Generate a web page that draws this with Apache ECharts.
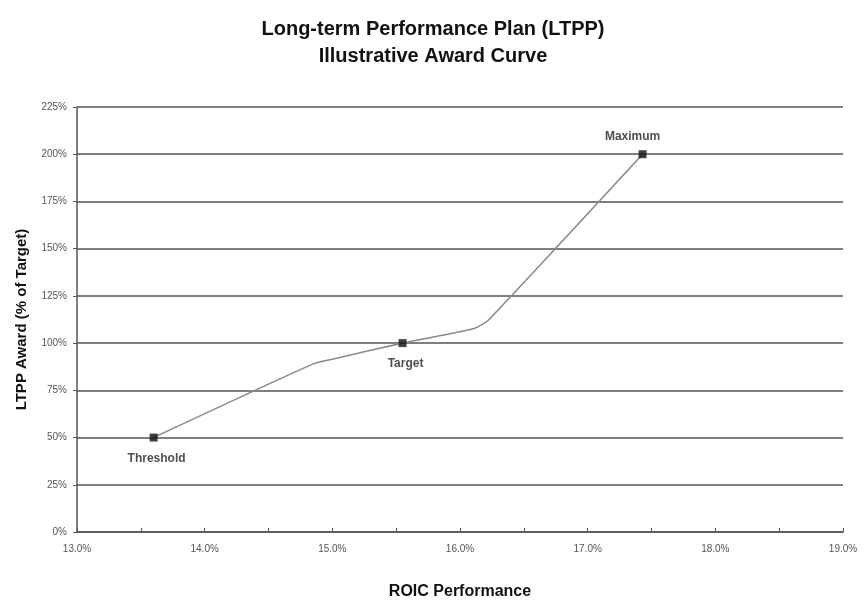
<!DOCTYPE html>
<html>
<head>
<meta charset="utf-8">
<script src="https://cdn.jsdelivr.net/npm/echarts@6/dist/echarts.min.js"></script>
<style>html,body{margin:0;padding:0;background:#fff}#c{width:866px;height:602px}</style>
</head>
<body>
<div id="c"></div>
<script>
const titleLines = ['Long-term Performance Plan (LTPP)', 'Illustrative Award Curve'];
const xAxisName = 'ROIC Performance';
const yAxisName = 'LTPP Award (% of Target)';
// award curve (ROIC %, award %)
const curveX = [13.6, 14.85, 15.0, 15.55, 16.0, 16.12, 16.22, 17.43];
const curveY = [50, 89, 91.5, 100, 106, 108, 112, 200];
// labelled points
const pointNames = ['Threshold', 'Target', 'Maximum'];
const pointX = [13.6, 15.55, 17.43];
const pointY = [50, 100, 200];

const chart = echarts.init(document.getElementById('c'));
const font = 'Liberation Sans, Arial, sans-serif';
chart.setOption({
  animation: false,
  backgroundColor: '#ffffff',
  title: {
    text: titleLines.join('\n'), left: 'center', top: 11,
    textStyle: {fontFamily: font, fontSize: 20, fontWeight: 'bold', color: '#111', lineHeight: 27}
  },
  grid: {left: 77, right: 23, top: 107, bottom: 70, containLabel: false, outerBoundsMode: 'none'},
  xAxis: {
    type: 'value', min: 13, max: 19, interval: 1,
    name: xAxisName, nameLocation: 'middle', nameGap: 52,
    nameTextStyle: {fontFamily: font, fontSize: 16, fontWeight: 'bold', color: '#111'},
    axisLine: {lineStyle: {color: '#555', width: 1.5}},
    axisTick: {show: true, inside: true, length: 4, lineStyle: {color: '#555'}},
    minorTick: {show: true, splitNumber: 2, length: 4, lineStyle: {color: '#555'}},
    axisLabel: {fontFamily: font, fontSize: 10, color: '#555', margin: 12,
      formatter: v => v.toFixed(1) + '%'},
    splitLine: {show: false}
  },
  yAxis: {
    type: 'value', min: 0, max: 225, interval: 25,
    name: yAxisName, nameLocation: 'middle', nameGap: 48, nameRotate: 90,
    nameTextStyle: {fontFamily: font, fontSize: 15, fontWeight: 'bold', color: '#111'},
    axisLine: {show: true, lineStyle: {color: '#555', width: 1.5}},
    axisTick: {show: true, length: 4, lineStyle: {color: '#555'}},
    axisLabel: {fontFamily: font, fontSize: 10, color: '#555', margin: 10, formatter: v => v + '%'},
    splitLine: {show: true, lineStyle: {color: '#555', width: 1.5}}
  },
  series: [
    {
      type: 'line', data: curveX.map((x, i) => [x, curveY[i]]),
      showSymbol: false, smooth: 0.2,
      lineStyle: {color: '#8a8a8a', width: 1.6}, z: 3
    },
    {
      type: 'scatter', data: pointX.map((x, i) => ({
        value: [x, pointY[i]], name: pointNames[i],
        label: i === 2 ? {position: 'top', offset: [-10, -2]} : {position: 'bottom', offset: [3, 5]}
      })),
      symbol: 'rect', symbolSize: 8, itemStyle: {color: '#111'}, z: 5,
      label: {show: true, formatter: p => p.name, fontFamily: font, fontSize: 12, fontWeight: 'bold', color: '#222', distance: 6}
    }
  ]
});
</script>
</body>
</html>
